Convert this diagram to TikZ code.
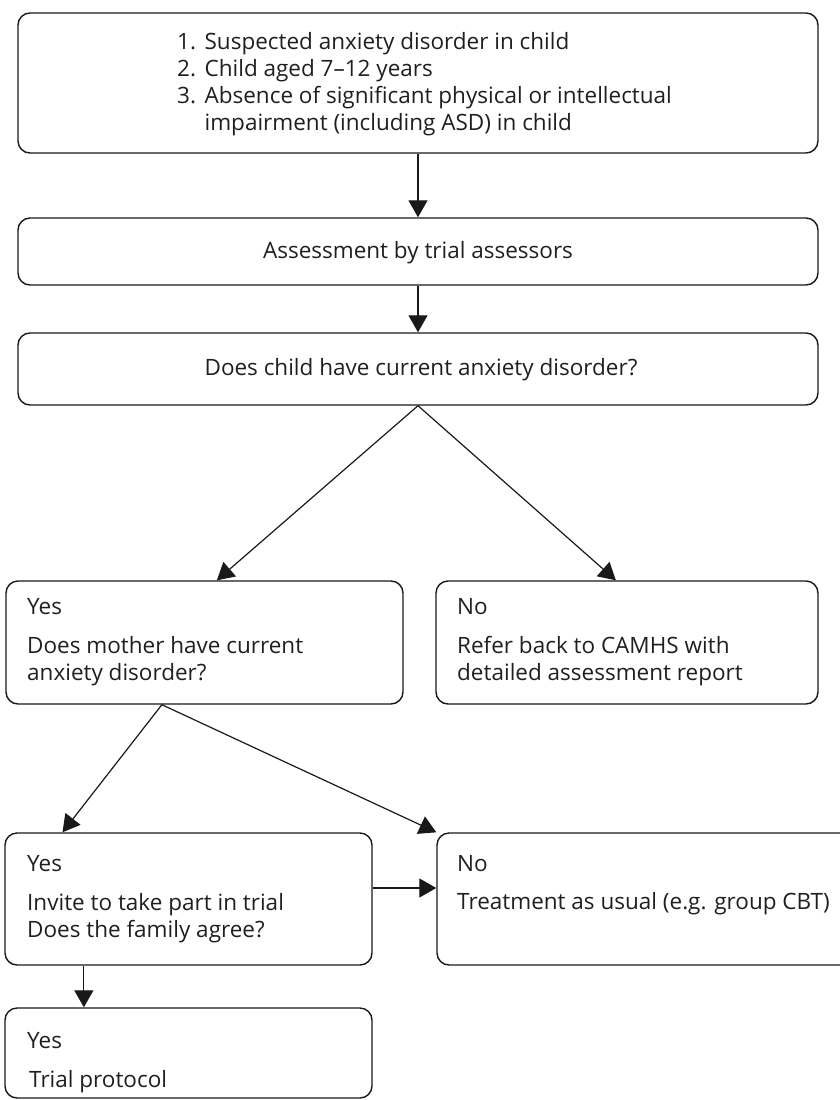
\documentclass[tikz,border=0pt]{standalone}
\usepackage{fontspec}
\setmainfont{Open Sans}
\usetikzlibrary{arrows.meta,calc}
\begin{document}
\begin{tikzpicture}[x=1pt,y=-1pt,
  box/.style={draw=black!90,line width=1.4pt,rounded corners=12pt,inner sep=0pt},
  txt/.style={inner sep=0pt,anchor=base west,align=left,font=\fontsize{22.5}{27}\selectfont,text=black!88},
  ctxt/.style={inner sep=0pt,anchor=base,font=\fontsize{22.5}{27}\selectfont,text=black!88},
  arr/.style={line width=1.2pt,draw=black!90,-{Triangle[length=17pt,width=19pt]}}]
\useasboundingbox (0,0) rectangle (840,1100);
\clip (0,0) rectangle (840,1100);
% boxes
\node[box,minimum width=800pt,minimum height=140pt] (b1) at (418,83) {};
\node[box,minimum width=800pt,minimum height=67pt] (b2) at (418,251.5) {};
\node[box,minimum width=800pt,minimum height=72pt] (b3) at (418,369) {};
\node[box,minimum width=397pt,minimum height=123pt] (ml) at (204.5,642.5) {};
\node[box,minimum width=382pt,minimum height=123pt] (mr) at (627,642.5) {};
\node[box,minimum width=367pt,minimum height=132pt] (ll) at (188.5,899) {};
\node[box,minimum width=460pt,minimum height=132pt] (lr) at (667,899) {};
\node[box,minimum width=367pt,minimum height=90pt] (bt) at (188.5,1053) {};
% texts
\node[txt] (t1) at (177,49) {\begin{tabular}[t]{@{}l@{\hspace{0.38em}}l@{}}
1. & Suspected anxiety disorder in child\\
2. & Child aged 7–12 years\\
3. & Absence of significant physical or intellectual\\
   & impairment (including ASD) in child
\end{tabular}};
\node[ctxt] (t2) at (418,258) {Assessment by trial assessors};
\node[ctxt] (t3) at (421,375) {Does child have current anxiety disorder?};
\node[txt] (t4a) at (27,614) {Yes};
\node[txt] (t4b) at (27,680) {Does mother have current\\anxiety disorder?};
\node[txt] (t5a) at (457,614) {No};
\node[txt] (t5b) at (457,680) {Refer back to CAMHS with\\detailed assessment report};
\node[txt] (t6a) at (27,871) {Yes};
\node[txt] (t6b) at (27,937) {Invite to take part in trial\\Does the family agree?};
\node[txt] (t7a) at (457,871) {No};
\node[txt] (t7b) at (457,909) {Treatment as usual (e.g. group CBT)};
\node[txt] (t8a) at (27,1048) {Yes};
\node[txt] (t8b) at (29,1087) {Trial protocol};
% connectors
\draw[arr] (b1.south) -- (b2.north);
\draw[arr] (b2.south) -- (b3.north);
\draw[arr] (b3.south) -- ($(ml.north west)!0.531!(ml.north east)$);
\draw[arr] (b3.south) -- ($(mr.north west)!0.471!(mr.north east)$);
\coordinate (mlb) at ($(ml.south west)!0.393!(ml.south east)$);
\draw[arr] (mlb) -- ($(ll.north west)!0.158!(ll.north east)$);
\draw[arr] (mlb) -- (lr.north west);
\coordinate (lle) at ($(ll.east)+(0,-11)$);
\draw[arr] (lle) -- (lle -| lr.west);
\draw[arr] ($(ll.south west)!0.216!(ll.south east)$) -- ($(bt.north west)!0.216!(bt.north east)$);
\end{tikzpicture}
\end{document}
